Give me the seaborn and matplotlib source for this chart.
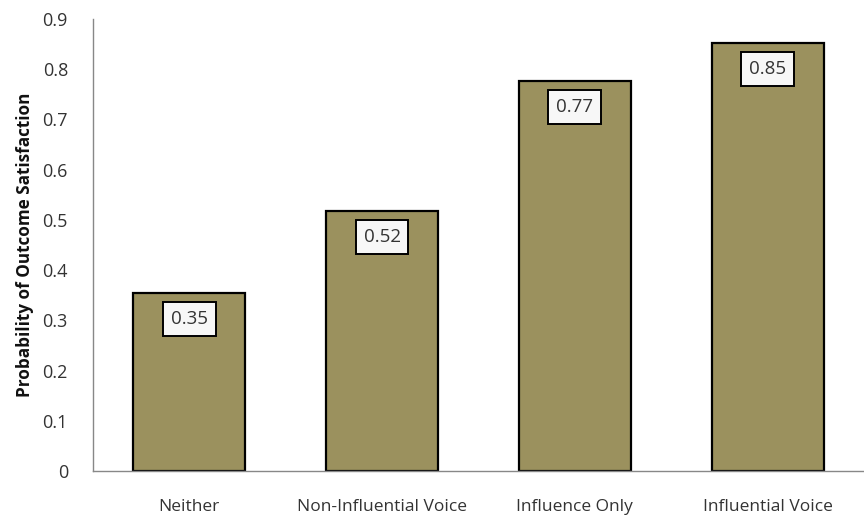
import matplotlib
matplotlib.use("Agg")
import matplotlib.pyplot as plt
import seaborn as sns
import pandas as pd

categories = ["Neither", "Non-Influential Voice", "Influence Only", "Influential Voice"]
values = [0.354, 0.517, 0.776, 0.852]
value_labels = ["0.35", "0.52", "0.77", "0.85"]
yticks = [0, 0.1, 0.2, 0.3, 0.4, 0.5, 0.6, 0.7, 0.8, 0.9]

sns.set_theme(style="white")
plt.rcParams['font.family'] = ['Open Sans', 'DejaVu Sans']

df = pd.DataFrame({"cat": categories, "val": values})

fig = plt.figure(figsize=(8.64, 5.18), dpi=100)
ax = fig.add_axes([0.1076, 0.0907, 0.8924, 0.8727])

sns.barplot(data=df, x="cat", y="val", ax=ax, color="#9B915E", saturation=1,
            width=0.58, edgecolor="black", linewidth=1.6)

for i, (v, lab) in enumerate(zip(values, value_labels)):
    ax.annotate(lab, xy=(i, v), xytext=(0, -12), textcoords="offset points",
                ha="center", va="top", fontsize=13.5, color="#333333",
                bbox=dict(boxstyle="square,pad=0.42", fc="#F7F7F7", ec="black", lw=1.4))

ax.set_ylim(0, 0.9)
ax.set_xlim(-0.5, 3.5)
ax.set_yticks(yticks)
ax.set_yticklabels([("%g" % t) for t in yticks])
ax.tick_params(axis="y", length=0, pad=18, labelsize=13, colors="#333333")
ax.tick_params(axis="x", length=0, pad=20, labelsize=12.5, colors="#333333")
ax.set_xlabel("")
ax.set_ylabel("Probability of Outcome Satisfaction", fontsize=12.3, fontweight="bold",
              color="#111111", labelpad=6)

for s in ["top", "right"]:
    ax.spines[s].set_visible(False)
ax.spines["left"].set_color("#888888")
ax.spines["bottom"].set_color("#888888")
ax.spines["left"].set_linewidth(1.0)
ax.spines["bottom"].set_linewidth(1.0)

fig.savefig("out.png", dpi=100)
